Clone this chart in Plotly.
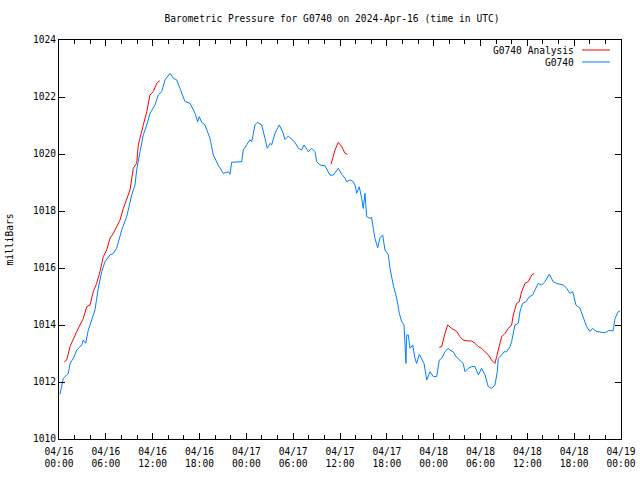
import plotly.graph_objects as go
from datetime import datetime, timedelta

BASE = datetime(2024, 4, 16, 0, 0)

# Station observations: hours since 2024-04-16 00:00 UTC, pressure (mb)
obs_hours = [0.13, 0.55, 1.19, 1.41, 1.83, 2.27, 2.91, 3.11, 3.42, 3.75, 4.19, 4.61, 5.03, 5.47,
             5.89, 6.53, 6.96, 7.39, 8.03, 8.67, 8.97, 9.31, 9.74, 9.95, 10.38, 10.80, 11.24,
             11.66, 12.30, 12.72, 13.16, 13.58, 14.22, 14.64, 15.08, 15.63, 16.14, 16.78, 17.42,
             17.77, 17.97, 18.28, 18.70, 19.34, 19.77, 20.41, 21.05, 21.69, 21.91, 22.12, 23.40,
             23.61, 24.05, 24.47, 24.69, 25.11, 25.40, 25.97, 26.39, 26.68, 27.03, 27.25, 27.67,
             28.22, 28.66, 28.95, 29.38, 29.81, 30.23, 30.66, 31.09, 31.39, 31.94, 32.37, 32.80,
             33.01, 33.44, 34.08, 34.72, 35.14, 35.58, 35.78, 36.22, 36.64, 36.86, 37.28, 37.70,
             37.92, 38.14, 38.47, 38.78, 38.98, 39.20, 39.42, 39.84, 40.06, 40.26, 40.48, 40.83,
             41.12, 41.47, 41.76, 42.19, 42.40, 42.83, 43.26, 43.60, 43.90, 44.20, 44.45, 44.54,
             44.75, 44.97, 45.31, 45.61, 45.82, 46.16, 46.47, 46.77, 47.11, 47.53, 47.95, 48.39,
             48.72, 49.03, 49.45, 49.87, 50.09, 50.51, 50.86, 51.37, 51.79, 52.01, 52.43, 52.87,
             53.29, 53.72, 54.15, 54.57, 54.99, 55.43, 55.85, 56.15, 56.28, 56.71, 57.01, 57.35,
             57.78, 57.99, 58.42, 58.84, 59.06, 59.40, 59.83, 60.25, 60.68, 60.98, 61.40, 61.84,
             62.26, 62.81, 63.32, 63.76, 64.60, 65.04, 65.46, 65.81, 66.23, 66.74, 67.17, 67.60,
             68.03, 68.37, 68.88, 69.52, 69.95, 70.37, 71.01, 71.23, 71.65, 71.87]
obs_mb = [1011.57, 1012.13, 1012.30, 1012.65, 1012.83, 1013.12, 1013.30, 1013.47, 1013.36, 1013.82,
          1014.18, 1014.53, 1015.29, 1015.87, 1016.22, 1016.46, 1016.51, 1016.69, 1017.33, 1017.80,
          1018.15, 1018.56, 1018.91, 1019.44, 1020.08, 1020.67, 1021.02, 1021.43, 1021.72, 1022.07,
          1022.19, 1022.60, 1022.83, 1022.66, 1022.60, 1022.19, 1021.84, 1021.78, 1021.43, 1021.13,
          1021.31, 1021.11, 1021.02, 1020.55, 1019.96, 1019.61, 1019.32, 1019.38, 1019.29, 1019.71,
          1019.73, 1020.14, 1020.32, 1020.50, 1020.43, 1021.02, 1021.11, 1021.02, 1020.55, 1020.20,
          1020.37, 1020.32, 1020.73, 1021.02, 1020.78, 1020.51, 1020.63, 1020.51, 1020.41, 1020.20,
          1020.14, 1020.32, 1020.08, 1020.20, 1020.08, 1019.73, 1019.61, 1019.59, 1019.26, 1019.26,
          1019.40, 1019.50, 1019.29, 1019.15, 1019.03, 1019.09, 1019.03, 1018.91, 1018.62, 1018.85,
          1018.44, 1018.09, 1018.62, 1017.80, 1017.74, 1017.77, 1017.39, 1017.04, 1016.71, 1017.06,
          1017.16, 1016.63, 1016.46, 1015.99, 1015.40, 1014.94, 1014.41, 1014.12, 1014.00, 1012.65,
          1013.65, 1013.65, 1013.18, 1013.30, 1012.83, 1012.65, 1012.97, 1012.83, 1012.65, 1012.07,
          1012.36, 1012.19, 1012.19, 1012.77, 1012.83, 1013.06, 1013.18, 1013.12, 1013.06, 1012.89,
          1012.77, 1012.65, 1012.36, 1012.48, 1012.54, 1012.54, 1012.25, 1012.48, 1012.25, 1011.84,
          1011.78, 1011.89, 1012.36, 1012.83, 1012.95, 1013.06, 1013.06, 1013.24, 1013.42, 1014.00,
          1014.06, 1014.47, 1014.76, 1014.82, 1014.99, 1015.05, 1015.23, 1015.46, 1015.40, 1015.52,
          1015.78, 1015.52, 1015.46, 1015.40, 1015.29, 1015.11, 1015.17, 1014.70, 1014.59, 1014.29,
          1013.94, 1013.77, 1013.88, 1013.77, 1013.73, 1013.73, 1013.80, 1013.80, 1014.23, 1014.47,
          1014.49]

# Analysis: three separate segments (None marks a gap)
ana_hours = [0.68, 0.99, 1.41, 1.83, 2.27, 2.69, 3.11, 3.55, 3.97, 4.39, 4.83, 5.25, 5.68, 6.11,
             6.53, 6.96, 7.39, 7.81, 8.24, 8.67, 9.10, 9.52, 9.95, 10.16, 10.59, 10.80, 11.24,
             11.66, 12.08, 12.52, 12.85, 12.94, None,
             34.85, 35.36, 35.78, 36.22, 36.64, 36.93, None,
             48.72, 49.03, 49.45, 49.80, 50.31, 50.95, 51.37, 51.79, 52.43, 52.87, 53.29, 53.72,
             54.15, 54.57, 54.99, 55.43, 55.85, 56.07, 56.49, 56.71, 57.14, 57.56, 57.99, 58.20,
             58.63, 58.97, 59.27, 59.70, 60.12, 60.56, 60.89]
ana_mb = [1012.71, 1012.77, 1013.24, 1013.53, 1013.77, 1014.00, 1014.23, 1014.64, 1014.70, 1015.17,
          1015.46, 1015.87, 1016.40, 1016.63, 1017.04, 1017.22, 1017.45, 1017.68, 1018.09, 1018.39,
          1018.74, 1019.50, 1019.67, 1020.32, 1020.84, 1021.02, 1021.48, 1022.07, 1022.19, 1022.48,
          1022.56, 1022.56, None,
          1019.64, 1020.14, 1020.41, 1020.26, 1020.02, 1019.99, None,
          1013.22, 1013.24, 1013.71, 1014.00, 1013.88, 1013.77, 1013.59, 1013.47, 1013.44, 1013.44,
          1013.36, 1013.24, 1013.18, 1013.06, 1012.95, 1012.77, 1012.65, 1012.89, 1013.42, 1013.59,
          1013.71, 1013.88, 1014.00, 1014.35, 1014.76, 1014.82, 1015.17, 1015.46, 1015.52, 1015.75,
          1015.81]

y_ticks = [1010, 1012, 1014, 1016, 1018, 1020, 1022, 1024]
title_text = "Barometric Pressure for G0740 on 2024-Apr-16 (time in UTC)"
series_names = ["G0740 Analysis", "G0740"]
series_colors = ["#ff0000", "#0080ff"]


def to_dt(hs):
    return [None if h is None else BASE + timedelta(hours=h) for h in hs]


FONT = "DejaVu Sans Mono"
FS = 9.6

fig = go.Figure()
fig.add_trace(go.Scatter(x=to_dt(ana_hours), y=ana_mb, mode="lines", name=series_names[0],
                         line=dict(color=series_colors[0], width=1), connectgaps=False))
fig.add_trace(go.Scatter(x=to_dt(obs_hours), y=obs_mb, mode="lines", name=series_names[1],
                         line=dict(color=series_colors[1], width=1)))

fig.update_layout(
    width=640, height=480,
    margin=dict(l=59, r=19, t=40, b=41),
    paper_bgcolor="white", plot_bgcolor="white",
    font=dict(family=FONT, size=FS, color="black"),
    showlegend=False,
    title=dict(text=title_text, x=332 / 640, xanchor="center", y=1 - 19 / 480, yanchor="middle",
               font=dict(family=FONT, size=FS)),
)

fig.update_xaxes(
    type="date", automargin=False,
    range=[BASE, BASE + timedelta(hours=72)],
    dtick=6 * 3600 * 1000, tick0=BASE,
    tickformat="%m/%d<br>%H:%M",
    ticks="inside", ticklen=6, tickcolor="black",
    ticklabelstandoff=3,
    minor=dict(dtick=2 * 3600 * 1000, tick0=BASE, ticks="inside", ticklen=4, tickcolor="black",
               showgrid=False),
    showline=True, linecolor="black", linewidth=1, mirror="allticks",
    showgrid=False, zeroline=False,
    tickfont=dict(family=FONT, size=FS),
)
fig.update_yaxes(
    range=[1010, 1024], tickvals=y_ticks, automargin=False,
    ticks="inside", ticklen=6, tickcolor="black",
    showline=True, linecolor="black", linewidth=1, mirror="allticks",
    showgrid=False, zeroline=False,
    tickfont=dict(family=FONT, size=FS),
)

fig.add_annotation(text="milliBars", xref="paper", yref="paper", x=-50 / 562, y=0.5,
                   textangle=-90, showarrow=False, xanchor="center", yanchor="middle",
                   font=dict(family=FONT, size=FS))

# gnuplot-style legend: right-aligned labels followed by line samples
for i, (nm, col) in enumerate(zip(series_names, series_colors)):
    ypx = 50 + 12 * i
    yp = 1 - (ypx - 40) / 399
    fig.add_annotation(text=nm, xref="paper", yref="paper", x=(576 - 59) / 562, y=yp,
                       xanchor="right", yanchor="middle", showarrow=False,
                       font=dict(family=FONT, size=FS))
    fig.add_shape(type="line", xref="paper", yref="paper",
                  x0=(582 - 59) / 562, x1=(610 - 59) / 562, y0=yp, y1=yp,
                  line=dict(color=col, width=1))

fig.write_html("out.html", config={"displayModeBar": False},
               post_script="document.body.style.margin='0';")
